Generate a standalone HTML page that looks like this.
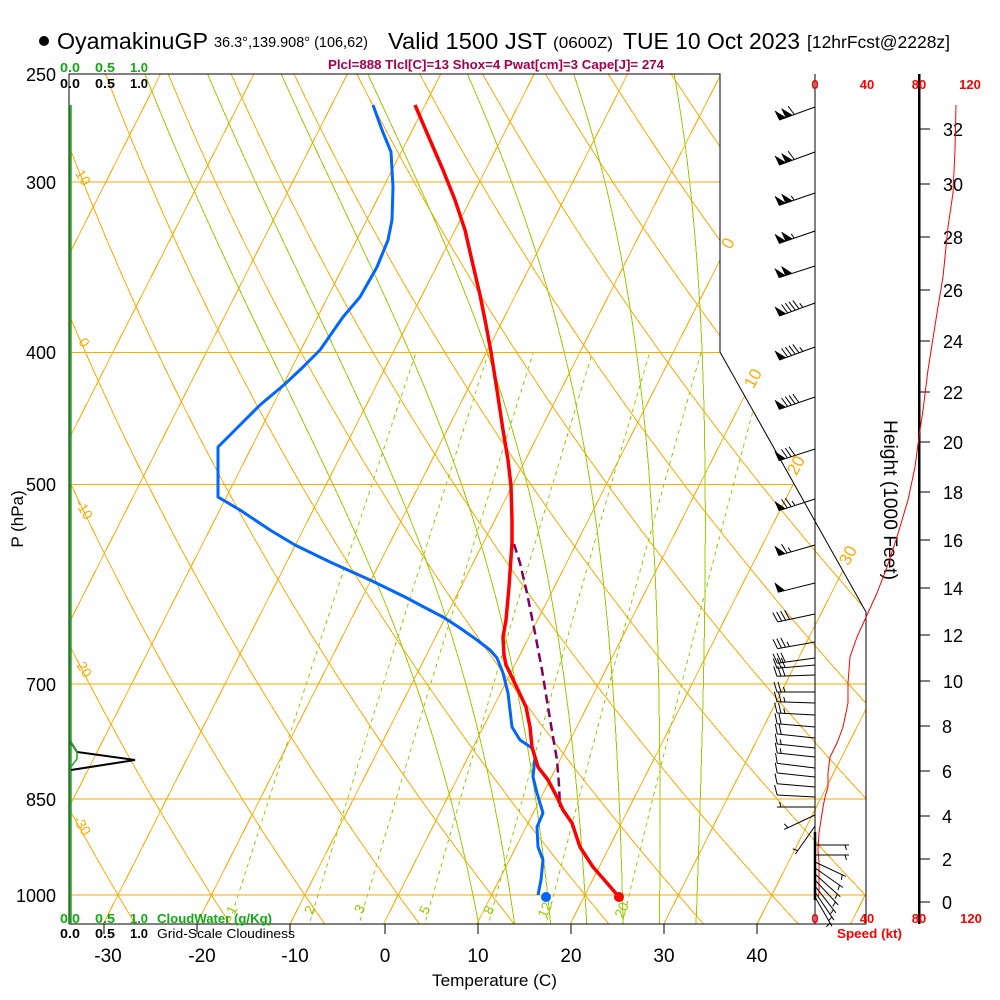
<!DOCTYPE html>
<html><head><meta charset="utf-8">
<style>
html,body{margin:0;padding:0;background:#fff;}
svg{display:block;}
text{font-family:"Liberation Sans",Arial,sans-serif;}
</style></head>
<body>
<svg id="s" width="1000" height="1000" viewBox="0 0 1000 1000" xmlns="http://www.w3.org/2000/svg">
<defs>
<clipPath id="cp"><polygon points="69,74 720,74 720,352 866,612 866,924 69,924"/></clipPath>
</defs>
<rect width="1000" height="1000" fill="#fff"/>
<g id="grid" clip-path="url(#cp)" fill="none" stroke-width="1" shape-rendering="crispEdges"></g>

<!-- frame -->
<g stroke="#000" fill="none" stroke-width="1" shape-rendering="crispEdges">
<polyline points="69,924 69,74 720,74 720,352"/>
<line x1="720" y1="352" x2="866" y2="612" shape-rendering="auto"/>
<polyline points="866,612 866,924 69,924"/>
<line x1="815" y1="74" x2="815" y2="924"/>
<line x1="919" y1="74" x2="919" y2="924" stroke-width="2.5"/>
</g>
<line x1="70.5" y1="105" x2="70.5" y2="924" stroke="#22aa22" stroke-width="2.5"/>

<!-- bottom ticks -->
<g stroke="#000" stroke-width="1" shape-rendering="crispEdges">
<line x1="104" y1="924" x2="104" y2="934"/><line x1="197" y1="924" x2="197" y2="934"/>
<line x1="290" y1="924" x2="290" y2="934"/><line x1="385" y1="924" x2="385" y2="934"/>
<line x1="478" y1="924" x2="478" y2="934"/><line x1="571" y1="924" x2="571" y2="934"/>
<line x1="664" y1="924" x2="664" y2="934"/><line x1="757" y1="924" x2="757" y2="934"/>
</g>
<g font-size="19" text-anchor="middle" fill="#000">
<text x="108" y="962">-30</text><text x="202" y="962">-20</text><text x="295" y="962">-10</text>
<text x="385" y="962">0</text><text x="478" y="962">10</text><text x="571" y="962">20</text>
<text x="664" y="962">30</text><text x="757" y="962">40</text>
</g>
<text x="432" y="986" font-size="17" textLength="125" lengthAdjust="spacingAndGlyphs">Temperature (C)</text>

<!-- pressure labels -->
<g font-size="18" text-anchor="end" fill="#000">
<text x="56" y="81">250</text><text x="56" y="189">300</text><text x="56" y="359">400</text>
<text x="56" y="491">500</text><text x="56" y="691">700</text><text x="56" y="806">850</text>
<text x="56" y="902">1000</text>
</g>
<text transform="translate(23,519) rotate(-90)" font-size="17" text-anchor="middle">P (hPa)</text>

<!-- height axis -->
<g id="hax" stroke="#000" stroke-width="1" shape-rendering="crispEdges"></g>
<g id="hlab" font-size="18" fill="#000"></g>
<text transform="translate(884,500) rotate(90)" font-size="19" text-anchor="middle" textLength="160" lengthAdjust="spacingAndGlyphs">Height (1000 Feet)</text>

<!-- speed labels -->
<g font-size="13" font-weight="bold" fill="#ff0000" text-anchor="middle">
<text x="815" y="89">0</text><text x="867" y="89">40</text><text x="919" y="89">80</text><text x="970" y="89">120</text>
<text x="815" y="923">0</text><text x="867" y="923">40</text><text x="919" y="923">80</text><text x="971" y="923">120</text>
</g>
<text x="837" y="938" font-size="13" font-weight="bold" fill="#ff0000" textLength="65" lengthAdjust="spacingAndGlyphs">Speed (kt)</text>

<!-- title -->
<circle cx="44" cy="41" r="5" fill="#000"/>
<text x="57" y="49" font-size="23" textLength="151" lengthAdjust="spacingAndGlyphs">OyamakinuGP</text>
<text x="214" y="47" font-size="15" textLength="154" lengthAdjust="spacingAndGlyphs">36.3°,139.908° (106,62)</text>
<text x="388" y="49" font-size="23" textLength="159" lengthAdjust="spacingAndGlyphs">Valid 1500 JST</text>
<text x="553" y="48" font-size="16" textLength="60" lengthAdjust="spacingAndGlyphs">(0600Z)</text>
<text x="623" y="49" font-size="23" textLength="177" lengthAdjust="spacingAndGlyphs">TUE 10 Oct 2023</text>
<text x="807" y="48" font-size="17.5" textLength="143" lengthAdjust="spacingAndGlyphs">[12hrFcst@2228z]</text>
<text x="328" y="69" font-size="13" font-weight="bold" fill="#a8004a" textLength="336" lengthAdjust="spacingAndGlyphs">Plcl=888 Tlcl[C]=13 Shox=4 Pwat[cm]=3 Cape[J]= 274</text>

<!-- cloud scale labels -->
<g font-size="13" font-weight="bold" fill="#11aa11">
<text x="60" y="72" textLength="20" lengthAdjust="spacingAndGlyphs">0.0</text>
<text x="95" y="72" textLength="20" lengthAdjust="spacingAndGlyphs">0.5</text>
<text x="130" y="72" textLength="18" lengthAdjust="spacingAndGlyphs">1.0</text>
<text x="60" y="923" textLength="20" lengthAdjust="spacingAndGlyphs">0.0</text>
<text x="95" y="923" textLength="20" lengthAdjust="spacingAndGlyphs">0.5</text>
<text x="130" y="923" textLength="18" lengthAdjust="spacingAndGlyphs">1.0</text>
<text x="157" y="923" textLength="115" lengthAdjust="spacingAndGlyphs">CloudWater (g/Kg)</text>
</g>
<g font-size="13" font-weight="bold" fill="#000">
<text x="60" y="88" textLength="20" lengthAdjust="spacingAndGlyphs">0.0</text>
<text x="95" y="88" textLength="20" lengthAdjust="spacingAndGlyphs">0.5</text>
<text x="130" y="88" textLength="18" lengthAdjust="spacingAndGlyphs">1.0</text>
<text x="60" y="938" textLength="20" lengthAdjust="spacingAndGlyphs">0.0</text>
<text x="95" y="938" textLength="20" lengthAdjust="spacingAndGlyphs">0.5</text>
<text x="130" y="938" textLength="18" lengthAdjust="spacingAndGlyphs">1.0</text>
<text x="157" y="938" font-weight="normal" textLength="138" lengthAdjust="spacingAndGlyphs">Grid-Scale Cloudiness</text>
</g>

<!-- grid labels -->
<g font-size="17" fill="#ffaa00" text-anchor="middle">
<text transform="translate(733,246) rotate(-62)">0</text>
<text transform="translate(758,381) rotate(-62)">10</text>
<text transform="translate(801,468) rotate(-62)">20</text>
<text transform="translate(853,558) rotate(-62)">30</text>
</g>
<g font-size="14" fill="#ffaa00" text-anchor="middle">
<text transform="translate(79,180) rotate(58)">10</text>
<text transform="translate(80,345) rotate(58)">0</text>
<text transform="translate(80,512) rotate(58)">-10</text>
<text transform="translate(79,670) rotate(58)">-20</text>
<text transform="translate(78,828) rotate(58)">-30</text>
</g>
<g font-size="14" fill="#99cc00" text-anchor="middle">
<text transform="translate(236,912) rotate(-65)">1</text>
<text transform="translate(314,912) rotate(-65)">2</text>
<text transform="translate(364,911) rotate(-65)">3</text>
<text transform="translate(429,912) rotate(-65)">5</text>
<text transform="translate(493,912) rotate(-65)">8</text>
<text transform="translate(549,912) rotate(-65)">12</text>
<text transform="translate(626,912) rotate(-65)">20</text>
</g>

<!-- cloud feature -->
<polyline points="70,741 77,752 135,760 71,770" fill="none" stroke="#000" stroke-width="2"/>
<polyline points="70,741 77,752 77,759 70,768" fill="none" stroke="#22aa22" stroke-width="1.5"/>

<!-- profiles -->
<polyline fill="none" stroke="#800060" stroke-width="2.5" stroke-dasharray="9 5" points="514,544 520,563 527,593 535,633 542,670 548,707 553,737 557,760 559,785 560,807"/>
<polyline fill="none" stroke="#0066ff" stroke-width="3" stroke-linejoin="round" points="373,105 382,130 391,152 393,187 392,220 388,240 377,267 360,297 343,317 320,350 302,368 285,384 260,405 235,430 218,447 218,497 240,510 270,530 295,545 330,562 370,580 405,597 420,605 443,617 460,628 477,640 490,650 497,658 503,673 508,693 510,710 512,727 520,740 532,748 535,757 533,777 537,793 543,813 537,827 538,847 543,860 541,880 538,895"/>
<polyline fill="none" stroke="#ff0000" stroke-width="3.5" stroke-linejoin="round" points="415,105 430,140 443,170 455,200 465,230 473,265 480,295 486,325 491,352 497,390 503,430 508,460 511,486 512,520 512,543 509,587 506,620 503,637 504,655 506,665 510,673 518,690 526,707 530,727 532,747 538,767 548,780 557,797 563,810 572,823 580,847 593,867 607,883 619,897"/>
<circle cx="546" cy="897" r="5" fill="#0066ff"/>
<circle cx="619" cy="897" r="5" fill="#ff0000"/>

<!-- speed profile -->
<polyline fill="none" stroke="#ff0000" stroke-width="1" points="956,105 955,150 953,193 948,227 943,277 937,313 928,370 923,410 919,437 915,467 908,500 897,537 887,567 877,593 867,615 857,637 850,657 849,670 848,683 848,703 843,727 837,743 830,757 828,773 828,787 825,797 823,807 821,820 819,833 818,850 819,863 819,877 819,893 818,897"/>

<g id="barbs" stroke="#000" stroke-width="1" fill="#000"></g>
</svg>
<script>
(function(){
const NS="http://www.w3.org/2000/svg";
const grid=document.getElementById('grid');
function Y(p){return 895+592*Math.log(p/1000);}
function X(T,p){return 398.2+9.34*T-300.1*Math.log(p/1000);}
function pl(parent,pts,stroke,extra){
  const e=document.createElementNS(NS,'polyline');
  e.setAttribute('points',pts.map(q=>q[0].toFixed(1)+','+q[1].toFixed(1)).join(' '));
  e.setAttribute('stroke',stroke);e.setAttribute('fill','none');
  if(extra)for(const k in extra)e.setAttribute(k,extra[k]);
  parent.appendChild(e);return e;
}
const OR="#ffaa00",GR="#99cc00";
for(let T=-90;T<=60;T+=10){pl(grid,[[X(T,1100),Y(1100)],[X(T,240),Y(240)]],OR);}
for(let th=-50;th<=140;th+=10){
  const pts=[];
  for(let p=1100;p>=240;p-=10){const T=(th+273.15)*Math.pow(p/1000,0.2857)-273.15;pts.push([X(T,p),Y(p)]);}
  pl(grid,pts,OR);
}
function es(Tc){return 6.112*Math.exp(17.67*Tc/(Tc+243.5));}
function f(lnp,TK){const p=Math.exp(lnp);const e=es(TK-273.15);const rs=0.622*e/(p-e);const L=2.501e6;
  return (287.04*TK+L*rs)/(1005.7+L*L*rs*0.622/(287.04*TK*TK));}
function integ(tw,h,stop){
  let lnp=Math.log(1000),TK=tw+273.15;const pts=[[X(tw,1000),Y(1000)]];
  for(let i=0;i<2000;i++){
    const k1=f(lnp,TK),k2=f(lnp+h/2,TK+h/2*k1),k3=f(lnp+h/2,TK+h/2*k2),k4=f(lnp+h,TK+h*k3);
    TK+=h/6*(k1+2*k2+2*k3+k4);lnp+=h;const p=Math.exp(lnp);
    pts.push([X(TK-273.15,p),Y(p)]);
    if((h<0&&p<stop)||(h>0&&p>stop))break;
  }
  return pts;
}
[8,12,16,20,24,28,32].forEach(tw=>{
  const up=integ(tw,-0.005,240);const dn=integ(tw,0.005,1100);
  pl(grid,dn.reverse().concat(up.slice(1)),GR);
});
[1,2,3,5,8,12,20].forEach(w=>{
  const pts=[];
  for(let p=1100;p>=400;p-=10){const e=w*p/(622+w);const l=Math.log(e/6.112);const Td=243.5*l/(17.67-l);pts.push([X(Td,p),Y(p)]);}
  pl(grid,pts,GR,{'stroke-dasharray':'4 4'});
});
[300,400,500,700,850,1000].forEach(p=>{const y=Y(p);pl(grid,[[60,y],[880,y]],OR);});

const hax=document.getElementById('hax'),hlab=document.getElementById('hlab');
[[32,129],[30,184],[28,237],[26,290],[24,341],[22,392],[20,442],[18,492],[16,540],[14,588],[12,635],[10,681],[8,726],[6,771],[4,816],[2,859],[0,902]].forEach(a=>{
  pl(hax,[[919,a[1]],[930,a[1]]],"#000");
  const t=document.createElementNS(NS,'text');t.setAttribute('x',a[0]>=10?943:942);t.setAttribute('y',a[1]+7);t.textContent=a[0];hlab.appendChild(t);
});

const bg=document.getElementById('barbs');
function barb(y,ang,spd,len){
  len=len||40;const a=ang*Math.PI/180;const ux=Math.cos(a),uy=Math.sin(a);const nx=-uy,ny=ux;
  const bx=815,by=y,tx=bx+ux*len,ty=by+uy*len;
  pl(bg,[[bx,by],[tx,ty]],"#000",{fill:'none'});
  let s=Math.round(spd/5)*5;let d=0;
  while(s>=50){
    const ax=tx-ux*d,ay=ty-uy*d,cx=tx-ux*(d+7),cy=ty-uy*(d+7);
    const e=document.createElementNS(NS,'polygon');
    e.setAttribute('points',[ax,ay,ax+nx*10+ux*1,ay+ny*10+uy*1,cx,cy].map(v=>v.toFixed(1)).join(','));
    e.setAttribute('fill','#000');e.setAttribute('stroke','#000');e.setAttribute('stroke-width','0.5');
    bg.appendChild(e);d+=7;s-=50;
  }
  if(d>0)d+=2;
  while(s>=10){const cx=tx-ux*d,cy=ty-uy*d;pl(bg,[[cx,cy],[cx+nx*10+ux*3,cy+ny*10+uy*3]],"#000",{fill:'none'});d+=4;s-=10;}
  if(s>=5){if(d===0)d=4;const cx=tx-ux*d,cy=ty-uy*d;pl(bg,[[cx,cy],[cx+nx*5+ux*1.5,cy+ny*5+uy*1.5]],"#000",{fill:'none'});}
}
[[107,160,110],[152,160,110],[193,161,105],[231,161,105],[266,162,100],[303,160,95],[347,160,95],[397,161,90],[449,162,80],[499,162,75],[545,164,65],[583,166,50],[614,168,40],[642,170,35],[658,172,30],
[665,175,30],[675,178,30],[692,180,25],[703,182,25],[715,183,25],[727,185,20],[738,186,20],[748,186,15],[757,186,15],[768,187,10],[777,186,10],[787,185,10],[797,183,10],[807,180,5]].forEach(b=>barb(b[0],b[1],b[2],38));
[[815,155,5],[826,125,5],[845,0,5],[855,0,5],[862,25,5],[868,35,5],[874,42,5],[880,47,5],[886,52,5],[892,56,5],[897,60,5]].forEach(b=>barb(b[0],b[1],b[2],34));
pl(bg,[[815,832],[815,900]],"#000",{'stroke-width':'2.5'});
})();
</script>
</body></html>
